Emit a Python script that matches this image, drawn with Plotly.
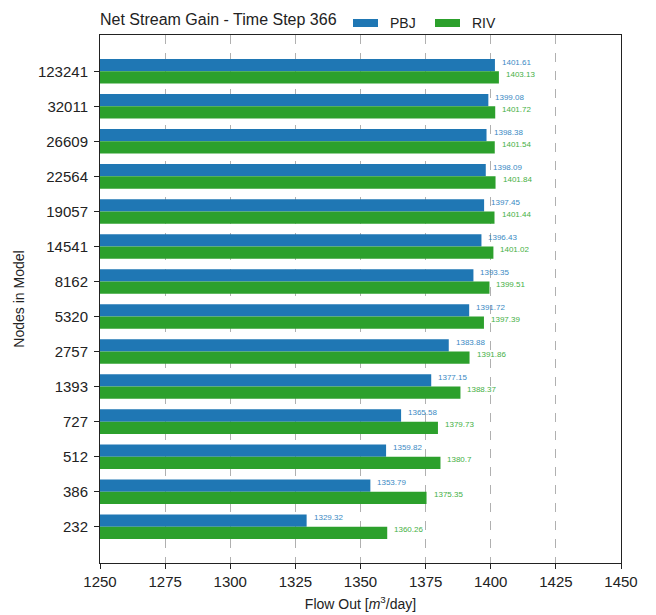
import plotly.graph_objects as go

nodes = ['232', '386', '512', '727', '1393', '2757', '5320', '8162',
         '14541', '19057', '22564', '26609', '32011', '123241']
pbj = [1329.32, 1353.79, 1359.82, 1365.58, 1377.15, 1383.88, 1391.72,
       1393.35, 1396.43, 1397.45, 1398.09, 1398.38, 1399.08, 1401.61]
riv = [1360.26, 1375.35, 1380.7, 1379.73, 1388.37, 1391.86, 1397.39,
       1399.51, 1401.02, 1401.44, 1401.84, 1401.54, 1401.72, 1403.13]
x_ticks = [1250, 1275, 1300, 1325, 1350, 1375, 1400, 1425, 1450]
series_names = ['PBJ', 'RIV']

BLUE = '#1f77b4'
GREEN = '#2ca02c'
BW = 0.35
idx = list(range(len(nodes)))
FONT = 'Arial, Liberation Sans, sans-serif'

# page has an 8px body margin; figure coordinates = page coordinates - 8
OFF = 8
W, H = 656 - OFF, 615 - OFF
L, R, T, B = 100 - OFF, 35, 35 - OFF, 52
PW, PH = W - L - R, H - T - B


def px_x(p):
    return (p - OFF - L) / PW


def px_y(p):
    return (H - B - (p - OFF)) / PH


fig = go.Figure()
fig.add_trace(go.Bar(name=series_names[0], y=idx, x=pbj, orientation='h', width=BW, offset=0,
                     marker=dict(color=BLUE, line=dict(width=0)), showlegend=False))
fig.add_trace(go.Bar(name=series_names[1], y=idx, x=riv, orientation='h', width=BW, offset=-BW,
                     marker=dict(color=GREEN, line=dict(width=0)), showlegend=False))

for i, v in zip(idx, pbj):
    fig.add_annotation(x=v, y=i + BW / 2, text=str(v), showarrow=False,
                       xanchor='left', yanchor='middle', xshift=5, yshift=3,
                       font=dict(size=8, color='#3a8ac4', family=FONT))
for i, v in zip(idx, riv):
    fig.add_annotation(x=v, y=i - BW / 2, text=str(v), showarrow=False,
                       xanchor='left', yanchor='middle', xshift=5, yshift=3,
                       font=dict(size=8, color='#45b045', family=FONT))

# custom legend (wide patches, as in the reference)
for name, col, x0, x1, xt in [(series_names[0], BLUE, 353, 378, 388),
                              (series_names[1], GREEN, 435, 460, 470)]:
    fig.add_shape(type='rect', xref='paper', yref='paper',
                  x0=px_x(x0), x1=px_x(x1), y0=px_y(27), y1=px_y(19),
                  fillcolor=col, line=dict(width=0))
    fig.add_annotation(xref='paper', yref='paper', x=px_x(xt), y=px_y(23),
                       text=name, showarrow=False, xanchor='left', yanchor='middle',
                       font=dict(size=14, color='#222', family=FONT))

fig.update_layout(
    width=W, height=H,
    margin=dict(l=L, r=R, t=T, b=B),
    barmode='overlay',
    showlegend=False,
    plot_bgcolor='white', paper_bgcolor='white',
    font=dict(family=FONT, color='#222'),
    title=dict(text='Net Stream Gain - Time Step 366', x=L / W, xanchor='left',
               y=1 - (19 - OFF) / H, yanchor='middle', font=dict(size=16, color='#222')),
    xaxis=dict(range=[1250, 1450], tickvals=x_ticks, ticktext=[str(t) for t in x_ticks],
               showgrid=True, gridcolor='#b0b0b0', griddash='dash', gridwidth=1,
               showline=True, linecolor='#222', linewidth=1, mirror=True,
               ticks='outside', ticklen=5, tickcolor='#222', zeroline=False,
               tickfont=dict(size=15), automargin=False,
               title=dict(text='Flow Out [<i>m</i><sup>3</sup>/day]', font=dict(size=14),
                          standoff=10)),
    yaxis=dict(range=[-1.035, len(nodes) - 1 + 1.035], tickvals=idx, ticktext=nodes,
               showgrid=False, showline=True, linecolor='#222', linewidth=1, mirror=True,
               ticks='outside', ticklen=5, tickcolor='#222', zeroline=False,
               tickfont=dict(size=15), automargin=False, ticklabelstandoff=3,
               title=dict(text='Nodes in Model', font=dict(size=14), standoff=10)),
)

fig.write_html('out.html')
